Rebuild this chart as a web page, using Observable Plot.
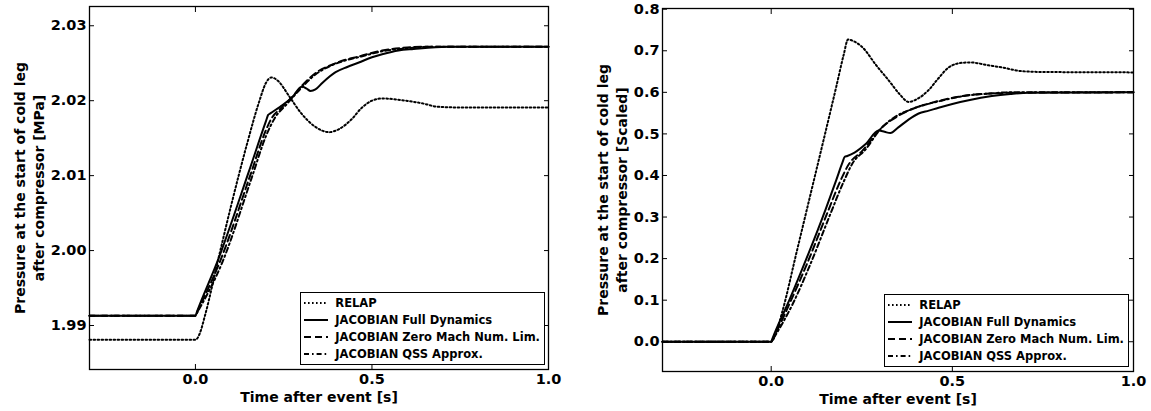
<!DOCTYPE html>
<html>
<head>
<meta charset="utf-8">
<script src="https://cdn.jsdelivr.net/npm/d3@7"></script>
<script src="https://cdn.jsdelivr.net/npm/@observablehq/plot@0.6"></script>
<style>
  html, body { margin: 0; padding: 0; background: #fff; }
  #wrap { position: relative; width: 1151px; height: 411px; overflow: hidden; font-family: "DejaVu Sans", sans-serif; }
  .panel { position: absolute; top: 0; }
  .legend { position: absolute; background: #fff; border: 1px solid #000; box-sizing: border-box;
            padding: 1px 4px 1px 3px; font: bold 11.5px "DejaVu Sans", sans-serif; color: #000; }
  .legend .row { display: flex; align-items: center; height: 17.2px; white-space: nowrap; }
  .legend svg { width: 24px; height: 10px; margin-right: 7px; flex: none; }
</style>
</head>
<body>
<div id="wrap"></div>
<script>
// ---------- categories / labels ----------
const seriesNames = ["RELAP", "JACOBIAN Full Dynamics", "JACOBIAN Zero Mach Num. Lim.", "JACOBIAN QSS Approx."];
const xTicks = [0.0, 0.5, 1.0];
const xLabel = "Time after event [s]";
const leftYTicks = [1.99, 2.00, 2.01, 2.02, 2.03];
const rightYTicks = [0.0, 0.1, 0.2, 0.3, 0.4, 0.5, 0.6, 0.7, 0.8];
const leftYLabel = "Pressure at the start of cold leg\nafter compressor [MPa]";
const rightYLabel = "Pressure at the start of cold leg\nafter compressor [Scaled]";

// ---------- left panel: pressure [MPa] ----------
const mpaRelapT = [-0.3, 0.0, 0.004, 0.012, 0.028, 0.066, 0.10, 0.146, 0.18, 0.20, 0.215, 0.235, 0.264, 0.30, 0.34, 0.378, 0.41, 0.444, 0.47, 0.50, 0.53, 0.58, 0.647, 0.685, 0.75, 1.0];
const mpaRelapV = [1.9881, 1.9881, 1.9882, 1.9889, 1.9915, 1.9991, 2.0058, 2.0142, 2.0198, 2.0224, 2.0231, 2.0226, 2.0207, 2.0183, 2.0165, 2.0158, 2.0163, 2.0176, 2.0190, 2.0200, 2.0203, 2.0201, 2.0196, 2.0192, 2.0191, 2.0191];

const mpaFullT = [-0.3, 0.0, 0.004, 0.066, 0.151, 0.20, 0.206, 0.212, 0.24, 0.275, 0.302, 0.315, 0.326, 0.34, 0.36, 0.397, 0.43, 0.463, 0.50, 0.529, 0.575, 0.618, 0.713, 1.0];
const mpaFullV = [1.9913, 1.9913, 1.9918, 1.9990, 2.0105, 2.0173, 2.0181, 2.0183, 2.0192, 2.0205, 2.0219, 2.0216, 2.0213, 2.0215, 2.0224, 2.0238, 2.0245, 2.0251, 2.0258, 2.0262, 2.0267, 2.0269, 2.0272, 2.0272];

const mpaZeroT = [-0.3, 0.0, 0.005, 0.07, 0.155, 0.20, 0.215, 0.24, 0.274, 0.312, 0.35, 0.387, 0.42, 0.463, 0.529, 0.60, 0.65, 1.0];
const mpaZeroV = [1.9913, 1.9913, 1.9918, 1.9986, 2.0100, 2.0161, 2.0176, 2.0189, 2.0205, 2.0225, 2.0240, 2.0248, 2.0254, 2.0259, 2.0267, 2.0271, 2.0272, 2.0272];

const mpaQssT = [-0.3, 0.0, 0.006, 0.075, 0.16, 0.20, 0.225, 0.26, 0.30, 0.34, 0.38, 0.42, 0.47, 0.53, 0.60, 0.66, 1.0];
const mpaQssV = [1.9913, 1.9913, 1.9918, 1.9983, 2.0098, 2.0153, 2.0177, 2.0196, 2.0217, 2.0235, 2.0246, 2.0253, 2.0259, 2.0266, 2.0270, 2.0272, 2.0272];

// ---------- right panel: pressure [scaled] ----------
const scRelapT = [-0.3, 0.0, 0.004, 0.012, 0.03, 0.07, 0.11, 0.15, 0.18, 0.20, 0.212, 0.23, 0.251, 0.29, 0.324, 0.355, 0.379, 0.405, 0.434, 0.46, 0.49, 0.526, 0.549, 0.60, 0.636, 0.691, 0.75, 1.0];
const scRelapV = [0.0, 0.0, 0.003, 0.018, 0.07, 0.215, 0.36, 0.505, 0.615, 0.69, 0.727, 0.722, 0.709, 0.665, 0.629, 0.595, 0.577, 0.585, 0.605, 0.632, 0.660, 0.671, 0.672, 0.665, 0.660, 0.651, 0.649, 0.648];

const scFullT = [-0.3, 0.0, 0.004, 0.05, 0.095, 0.15, 0.18, 0.197, 0.203, 0.21, 0.23, 0.26, 0.297, 0.313, 0.329, 0.35, 0.38, 0.407, 0.435, 0.462, 0.50, 0.545, 0.609, 0.66, 0.71, 1.0];
const scFullV = [0.0, 0.0, 0.009, 0.10, 0.195, 0.318, 0.39, 0.432, 0.445, 0.447, 0.455, 0.475, 0.508, 0.505, 0.502, 0.515, 0.535, 0.549, 0.556, 0.563, 0.572, 0.581, 0.591, 0.596, 0.599, 0.600];

const scZeroT = [-0.3, 0.0, 0.005, 0.055, 0.10, 0.155, 0.19, 0.215, 0.25, 0.306, 0.35, 0.398, 0.435, 0.471, 0.52, 0.563, 0.609, 0.65, 1.0];
const scZeroV = [0.0, 0.0, 0.008, 0.10, 0.19, 0.31, 0.385, 0.428, 0.458, 0.516, 0.543, 0.563, 0.573, 0.581, 0.590, 0.595, 0.597, 0.599, 0.600];

const scQssT = [-0.3, 0.0, 0.006, 0.06, 0.105, 0.16, 0.20, 0.225, 0.26, 0.30, 0.34, 0.38, 0.42, 0.47, 0.53, 0.60, 0.66, 1.0];
const scQssV = [0.0, 0.0, 0.008, 0.092, 0.18, 0.30, 0.385, 0.43, 0.462, 0.51, 0.54, 0.557, 0.569, 0.58, 0.591, 0.597, 0.600, 0.600];

// ---------- styles ----------
const lineStyles = [
  {dash: "1.6,2.4", width: 2.0},
  {dash: null, width: 2.0},
  {dash: "7,4", width: 2.0},
  {dash: "5,3,1.6,3", width: 2.0}
];

function rows(t, v, s) { return t.map((x, i) => ({t: x, v: v[i], s})); }

function panel({series, yDomain, yTicks, yFmt, yLabel, yLabelDx, yLabelLH, width, margins}) {
  const marks = [];
  series.forEach((d, i) => {
    const st = lineStyles[i];
    marks.push(Plot.line(rows(d[0], d[1], seriesNames[i]), {
      x: "t", y: "v", stroke: "#000", strokeWidth: st.width,
      strokeDasharray: st.dash, curve: "monotone-x", strokeLinejoin: "round"
    }));
  });
  const fs = 14.5;
  marks.push(
    Plot.frame({stroke: "#000", strokeWidth: 1.3}),
    Plot.axisX(xTicks, {anchor: "bottom", tickSize: -5, tickPadding: 9, tickFormat: d3.format(".1f"), label: null, fontSize: fs, stroke: "#000"}),
    Plot.axisX(xTicks, {anchor: "top", tickSize: -5, tickFormat: () => "", label: null, stroke: "#000"}),
    Plot.axisY(yTicks, {anchor: "left", tickSize: -5, tickPadding: 8, tickFormat: d3.format(yFmt), label: null, fontSize: fs, stroke: "#000"}),
    Plot.axisY(yTicks, {anchor: "right", tickSize: -5, tickFormat: () => "", label: null, stroke: "#000"}),
    Plot.text([xLabel], {text: d => d, frameAnchor: "bottom", dy: 28, lineAnchor: "middle", textAnchor: "middle", fontSize: 14, fontWeight: "bold", fill: "#000"}),
    Plot.text([yLabel], {text: d => d, frameAnchor: "left", dx: yLabelDx, rotate: -90, textAnchor: "middle", lineAnchor: "middle", lineHeight: yLabelLH, fontSize: 14, fontWeight: "bold", fill: "#000"})
  );
  return Plot.plot({
    width, height: 411,
    marginLeft: margins[0], marginRight: margins[1], marginTop: margins[2], marginBottom: margins[3],
    x: {domain: [-0.3, 1.0]},
    y: {domain: yDomain},
    style: {fontFamily: "DejaVu Sans, sans-serif", fontWeight: "bold", fontSize: "14px", color: "#000", background: "#fff", overflow: "visible"},
    marks
  });
}

function legend(rightPx, bottomPx) {
  const div = document.createElement("div");
  div.className = "legend";
  div.style.right = rightPx + "px";
  div.style.bottom = bottomPx + "px";
  seriesNames.forEach((name, i) => {
    const st = lineStyles[i];
    const row = document.createElement("div");
    row.className = "row";
    row.innerHTML = `<svg viewBox="0 0 24 10"><line x1="0" y1="5" x2="24" y2="5" stroke="#000" stroke-width="${st.width}" ${st.dash ? `stroke-dasharray="${st.dash}"` : ""}/></svg><span>${name}</span>`;
    div.appendChild(row);
  });
  return div;
}

const wrap = document.getElementById("wrap");

const left = panel({
  series: [[mpaRelapT, mpaRelapV], [mpaFullT, mpaFullV], [mpaZeroT, mpaZeroV], [mpaQssT, mpaQssV]],
  yDomain: [1.98413, 2.03257], yTicks: leftYTicks, yFmt: ".2f", yLabel: leftYLabel,
  yLabelDx: -61.5, yLabelLH: 1.36, width: 575, margins: [89, 27, 6, 42]
});
const right = panel({
  series: [[scRelapT, scRelapV], [scFullT, scFullV], [scZeroT, scZeroV], [scQssT, scQssV]],
  yDomain: [-0.0716, 0.8017], yTicks: rightYTicks, yFmt: ".1f", yLabel: rightYLabel,
  yLabelDx: -51, yLabelLH: 1.31, width: 576, margins: [87, 18, 8, 40]
});

const p1 = document.createElement("div"); p1.className = "panel"; p1.style.left = "0px"; p1.appendChild(left);
const p2 = document.createElement("div"); p2.className = "panel"; p2.style.left = "575px"; p2.appendChild(right);
wrap.appendChild(p1); wrap.appendChild(p2);
wrap.appendChild(legend(1151 - 545, 411 - 365));
wrap.appendChild(legend(1151 - 1129, 411 - 367));
</script>
</body>
</html>
